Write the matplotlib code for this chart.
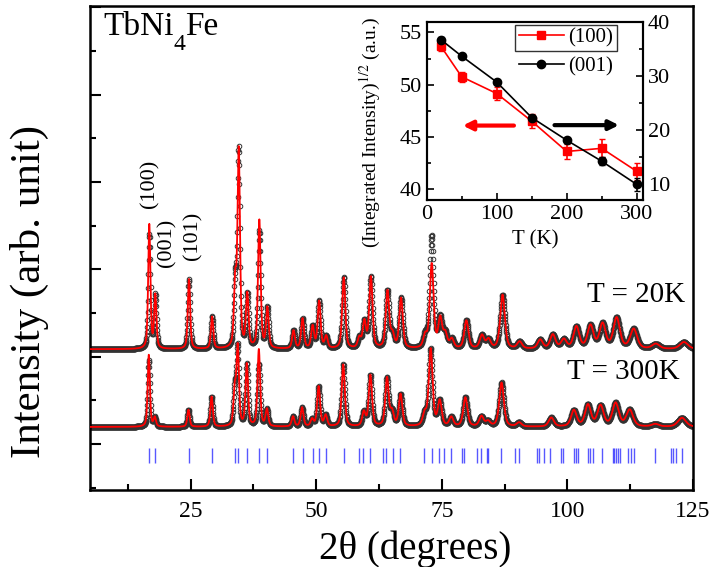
import numpy as np
import matplotlib.pyplot as plt
from matplotlib.lines import Line2D
from matplotlib.ticker import MultipleLocator

plt.rcParams['font.family'] = ['Liberation Serif', 'DejaVu Serif']
plt.rcParams['mathtext.fontset'] = 'stix'

# Peak positions (2theta, deg) and heights above background
pos_20k = [16.8, 18.0, 24.7, 29.3, 33.9, 34.6, 36.3, 38.7, 40.3, 45.5, 47.3, 49.3,
           50.6, 52.0, 55.5, 58.6, 59.6, 60.9, 64.2, 65.2, 66.9, 71.7, 73.0, 74.7,
           75.7, 77.0, 79.9, 83.0, 84.3, 87.1, 90.5, 94.6, 97.1, 99.3, 101.8, 104.6,
           107.0, 109.8, 113.2, 117.6, 123.2]
obs_20k = [1305, 607, 800, 366, 720, 2250, 607, 1340, 458, 206, 343, 252,
           538, 137, 813, 115, 298, 813, 653, 150, 573, 137, 1282, 332,
           160, 103, 320, 150, 103, 618, 80, 103, 160, 103, 250, 260,
           280, 350, 225, 57, 80]
calc_20k = [1420, 607, 800, 366, 720, 2250, 607, 1465, 458, 206, 343, 252,
            538, 137, 813, 115, 298, 813, 653, 150, 573, 137, 962, 332,
            160, 103, 320, 150, 103, 618, 80, 103, 160, 103, 250, 260,
            280, 350, 225, 57, 80]

pos_300k = [16.7, 17.9, 24.6, 29.2, 33.8, 34.4, 36.2, 38.6, 40.2, 45.4, 47.2, 49.2,
            50.5, 51.9, 55.4, 59.5, 60.8, 64.1, 65.1, 66.8, 71.6, 72.8, 74.6, 76.9,
            79.7, 82.9, 84.2, 86.9, 90.4, 96.8, 101.3, 104.1, 106.6, 109.6, 112.4,
            117.5, 122.8]
obs_300k = [767, 103, 195, 344, 400, 900, 710, 710, 195, 115, 218, 80,
            458, 126, 710, 160, 584, 550, 160, 366, 137, 882, 286, 103,
            332, 115, 57, 504, 46, 103, 185, 245, 235, 265, 190,
            30, 103]
calc_300k = [824, 103, 195, 344, 400, 900, 710, 880, 195, 115, 218, 80,
             458, 126, 710, 160, 584, 550, 160, 366, 137, 882, 286, 103,
             332, 115, 57, 504, 46, 103, 185, 245, 235, 265, 190,
             30, 103]

background_20k = 1085
background_300k = 195

bragg_pos = [16.7, 18.0, 24.7, 29.3, 33.9, 34.5, 36.2, 38.6, 40.2, 45.4, 47.3, 49.3,
             50.5, 52.0, 55.5, 58.5, 59.4, 60.8, 63.4, 64.0, 65.2, 66.6, 71.5, 73.0,
             74.5, 75.5, 76.9, 79.1, 79.5, 82.0, 82.8, 84.0, 84.3, 86.8, 89.5, 90.4,
             94.0, 94.4, 95.3, 96.6, 98.7, 99.1, 101.4, 101.8, 102.2, 104.2, 104.6,
             105.1, 106.9, 109.0, 109.3, 109.7, 110.1, 110.4, 112.0, 112.7, 113.2,
             117.4, 120.6, 121.0, 121.6, 122.8]

# inset: temperature dependence
temps = [20, 50, 100, 150, 200, 250, 300]
i100 = [53.7, 50.75, 49.15, 46.5, 43.6, 43.9, 41.7]
i100_err = [0.5, 0.5, 0.65, 0.65, 0.75, 0.85, 0.8]
i001 = [36.8, 33.7, 28.9, 22.3, 18.1, 14.2, 9.9]
i001_err = [0.4, 0.4, 0.4, 0.5, 0.5, 0.7, 1.2]


def profile(tt, centers, heights, base):
    # pseudo-Voigt peaks with a Caglioti-type width
    y = np.full_like(tt, float(base))
    for c, h in zip(centers, heights):
        th = np.radians(c / 2)
        fw = np.sqrt(1.0 * np.tan(th) ** 2 + 0.25)
        d = (tt - c) / (fw / 2)
        y += h * (0.5 / (1 + d ** 2) + 0.5 * np.exp(-np.log(2) * d ** 2))
    return y


tt = np.arange(5.0, 125.0, 0.05)

fig = plt.figure(figsize=(7.12, 5.67), dpi=100)
ax = fig.add_axes([90 / 712, 1 - 490 / 567, 603 / 712, 484 / 567])

for pos, obs, calc, base in [(pos_20k, obs_20k, calc_20k, background_20k),
                             (pos_300k, obs_300k, calc_300k, background_300k)]:
    ax.plot(tt, profile(tt, pos, obs, base), 'o', mfc='none', mec='#333333',
            ms=3.3, mew=0.7, zorder=2)
    ax.plot(tt, profile(tt, pos, calc, base), '-', color='#ff0000', lw=1.3, zorder=3)

ax.vlines(bragg_pos, -218, -46, color='#2020ff', lw=1.0, alpha=0.75)

ax.set_xlim(5, 125)
ax.set_ylim(-527, 5015)
ax.xaxis.set_major_locator(MultipleLocator(25))
ax.xaxis.set_minor_locator(MultipleLocator(12.5))
ax.yaxis.set_major_locator(MultipleLocator(1000))
ax.yaxis.set_minor_locator(MultipleLocator(500))
ax.set_yticklabels([])
ax.tick_params(which='both', direction='in', top=False, right=False, width=1.5)
ax.tick_params(which='major', length=8, labelsize=17, pad=8)
ax.tick_params(which='minor', length=4)
for s in ax.spines.values():
    s.set_linewidth(1.8)

ax.set_xlabel('2θ (degrees)', fontsize=28)
ax.xaxis.set_label_coords(0.54, -0.083)
ax.set_ylabel('Intensity (arb. unit)', fontsize=31)
ax.yaxis.set_label_coords(-0.068, 0.41)

# compound name with a dropped subscript
t1 = ax.text(7.6, 4683, 'TbNi', fontsize=24, va='baseline')
t4 = ax.annotate('4', xy=(1, 4511), xycoords=(t1, 'data'), fontsize=17,
                 va='baseline', ha='left')
ax.annotate('Fe', xy=(1, 4683), xycoords=(t4, 'data'), fontsize=24,
            va='baseline', ha='left')

ax.text(123.4, 1629, 'T = 20K', fontsize=21, ha='right', va='baseline')
ax.text(122.3, 744, 'T = 300K', fontsize=21, ha='right', va='baseline')
ax.text(16.95, 2977, '(100)', fontsize=16, rotation=90, ha='center', va='center')
ax.text(20.3, 2301, '(001)', fontsize=16, rotation=90, ha='center', va='center')
ax.text(25.5, 2382, '(101)', fontsize=16, rotation=90, ha='center', va='center')

# inset
axi = fig.add_axes([426.7 / 712, 1 - 200 / 567, 216.3 / 712, 178 / 567])
axr = axi.twinx()
axi.errorbar(temps, i100, yerr=i100_err, fmt='-s', color='#ff0000', ms=6,
             lw=1.2, capsize=2, elinewidth=1.2)
axr.errorbar(temps, i001, yerr=i001_err, fmt='-o', color='black', ms=6,
             lw=1.2, capsize=2, elinewidth=1.2)
axi.set_xlim(0, 309)
axi.set_ylim(38.95, 56.0)
axr.set_ylim(7.0, 40.05)
axi.xaxis.set_major_locator(MultipleLocator(100))
axi.xaxis.set_minor_locator(MultipleLocator(50))
axi.yaxis.set_major_locator(MultipleLocator(5))
axi.yaxis.set_minor_locator(MultipleLocator(2.5))
axr.yaxis.set_major_locator(MultipleLocator(10))
axr.yaxis.set_minor_locator(MultipleLocator(5))
for a in (axi, axr):
    a.tick_params(which='both', direction='in', width=1.2, labelsize=16)
    a.tick_params(which='major', length=5)
    a.tick_params(which='minor', length=3)
    for s in a.spines.values():
        s.set_linewidth(1.5)
axi.tick_params(axis='both', which='both', top=False)
axr.tick_params(axis='y', which='both', left=False)
axi.set_xlabel('T (K)', fontsize=15)
axi.xaxis.set_label_coords(0.5, -0.17)
axi.set_ylabel('(Integrated Intensity)$^{1/2}$ (a.u.)', fontsize=14)
axi.yaxis.set_label_coords(-0.2, 0.38)

axi.annotate('', xy=(47.6, 46.08), xytext=(128.6, 46.08),
             arrowprops=dict(arrowstyle='-|>', color='#ff0000', lw=3, mutation_scale=14))
axr.annotate('', xy=(278.6, 20.9), xytext=(178.6, 20.9),
             arrowprops=dict(arrowstyle='-|>', color='black', lw=3, mutation_scale=14))

red_h = Line2D([], [], color='#ff0000', marker='s', ms=6, lw=1.2)
blk_h = Line2D([], [], color='black', marker='o', ms=6, lw=1.2)
leg1 = axr.legend([red_h], ['(100)'], loc='upper left', bbox_to_anchor=(0.41, 0.985),
                  fontsize=15, frameon=True, fancybox=False, edgecolor='black',
                  handlelength=2.2, handletextpad=0.2, borderpad=0.15, borderaxespad=0)
leg1.get_frame().set_linewidth(1.0)
axr.add_artist(leg1)
axr.legend([blk_h], ['(001)'], loc='upper left', bbox_to_anchor=(0.41, 0.82),
           fontsize=15, frameon=False, handlelength=2.2, handletextpad=0.2,
           borderpad=0.15, borderaxespad=0)

fig.savefig('out.png', dpi=100)
